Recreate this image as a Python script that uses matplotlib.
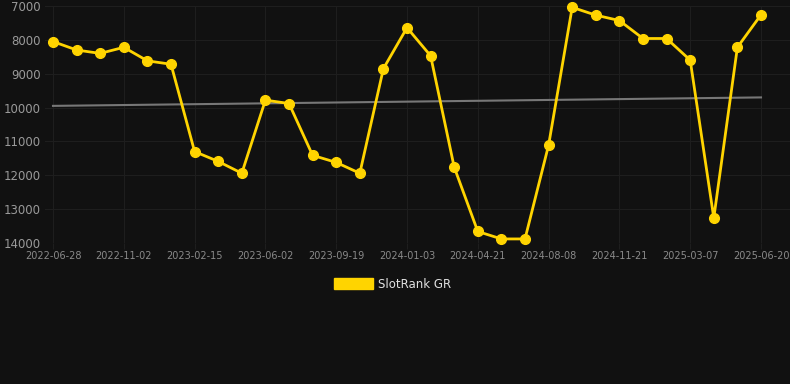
import numpy as np
import matplotlib
matplotlib.use("Agg")
import matplotlib.pyplot as plt
from matplotlib.patches import Patch

# 每个点一个值（排名，越小越好）
rank = [8050, 8300, 8400, 8220, 8620, 8720, 11300, 11590, 11940, 9780,
        9880, 11410, 11620, 11940, 8850, 7640, 8470, 11760, 13660, 13880,
        13880, 11110, 7040, 7270, 7430, 7960, 7960, 8600, 13260, 8220, 7260]
tick_labels = ["2022-06-28", "2022-11-02", "2023-02-15", "2023-06-02", "2023-09-19",
               "2024-01-03", "2024-04-21", "2024-08-08", "2024-11-21", "2025-03-07",
               "2025-06-20"]
trend = [9950, 9700]  # 趋势线的起点和终点
series_name = "SlotRank GR"

bg = "#111111"
gold = "#FFD400"

fig = plt.figure(figsize=(7.9, 3.84), dpi=100, facecolor=bg)
ax = fig.add_axes([45 / 790, 1 - 243 / 384, 745 / 790, 237 / 384], facecolor=bg)

x = np.arange(len(rank))
ax.plot([x[0], x[-1]], trend, color="#777777", lw=1.5, zorder=2)
ax.plot(x, rank, color=gold, lw=2.0, marker="o", ms=7, zorder=3, clip_on=False)

ax.set_ylim(14000, 7000)
ax.set_xlim(-8 / 23.6, 30 + 29 / 23.6)
ax.set_yticks(range(7000, 14001, 1000))
ax.set_xticks(x[::3])
ax.set_xticklabels(tick_labels)

ax.grid(True, color="#1e1e1e", lw=0.8)
for s in ax.spines.values():
    s.set_visible(False)
ax.tick_params(axis="y", length=0, colors="#9a9a9a", labelsize=8.5, pad=3)
ax.tick_params(axis="x", length=4, color="#1e1e1e", colors="#8a8a8a", labelsize=7, pad=2)

handle = Patch(facecolor=gold, edgecolor=gold)
leg = fig.legend([handle], [series_name], loc="center", bbox_to_anchor=(0.497, 1 - 284 / 384),
                 frameon=False, fontsize=8.5, labelcolor="#e0e0e0",
                 handlelength=3.3, handleheight=1.0, handletextpad=0.45)

fig.savefig("out.png", dpi=100, facecolor=bg)
